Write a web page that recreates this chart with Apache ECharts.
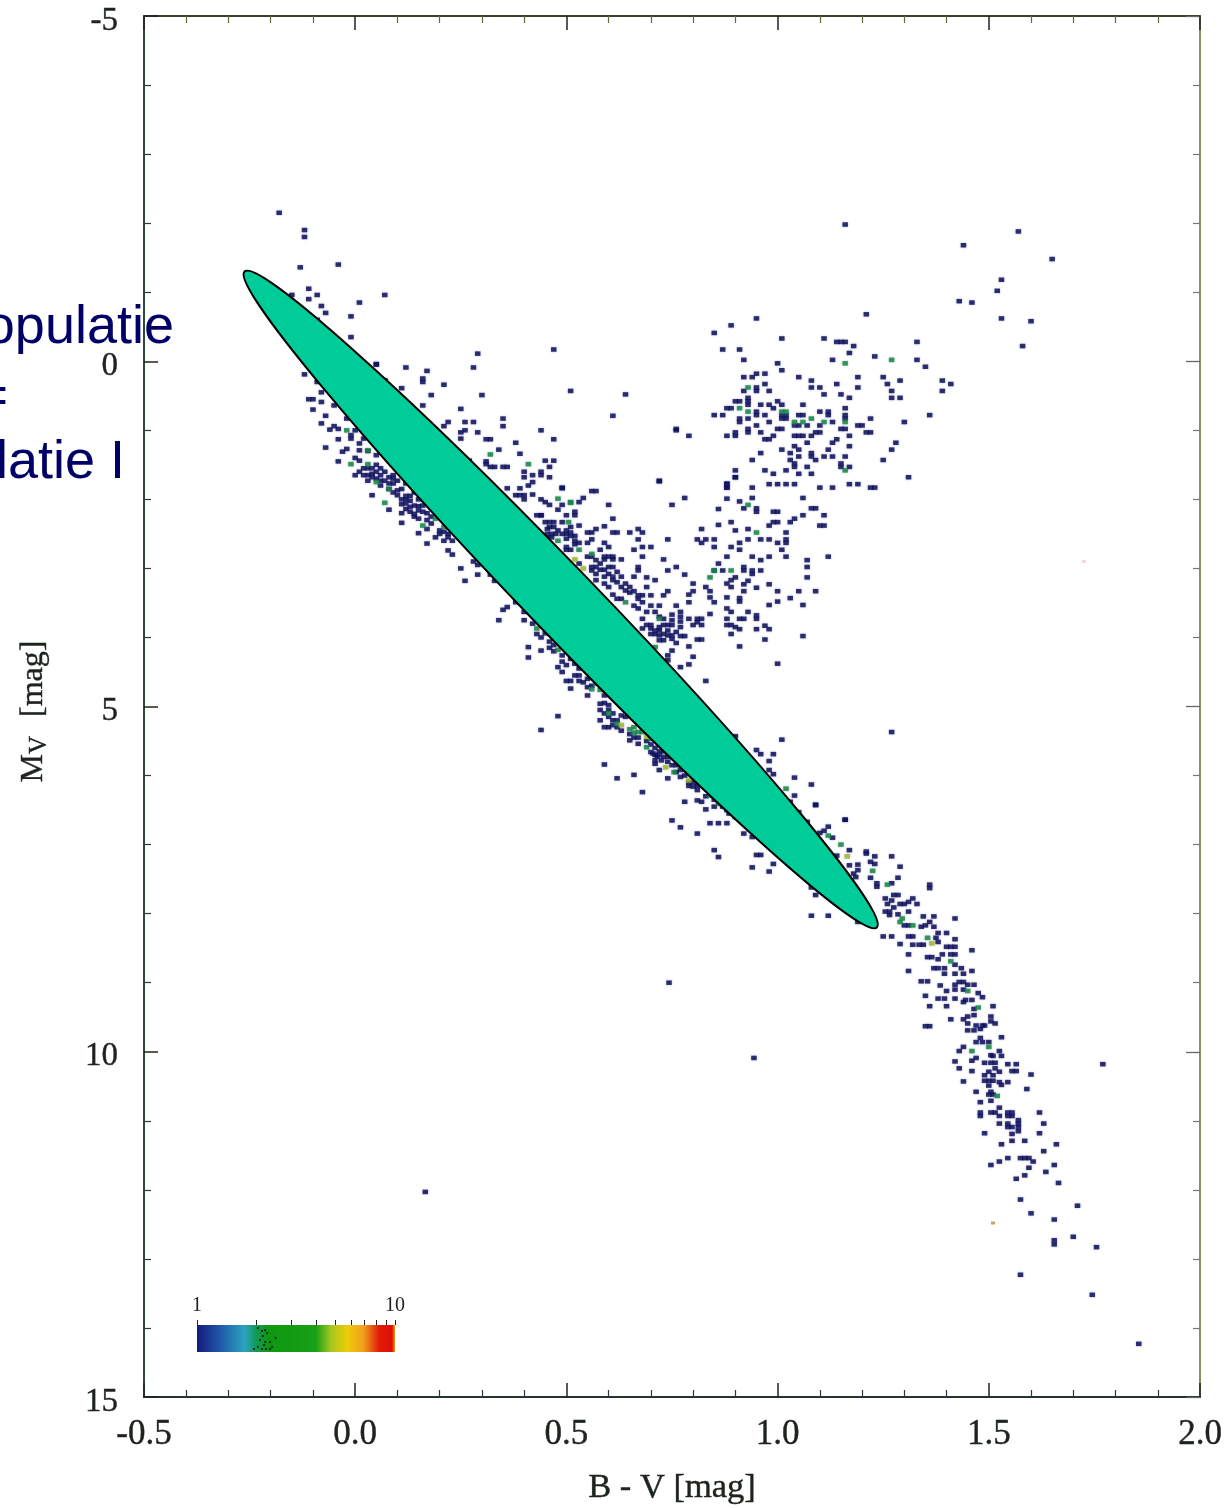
<!DOCTYPE html>
<html><head><meta charset="utf-8">
<style>html,body{margin:0;padding:0;background:#fff}#c{width:1229px;height:1508px}</style>
<script src="https://cdn.jsdelivr.net/npm/echarts@6/dist/echarts.min.js"></script>
</head><body><div id="c"></div>
<script>
// [B-V, Mv] cells
const brightBlue = [[-.18,-2.15],[-.12,-1.9],[-.12,-1.8],[-.13,-1.36],[-.04,-1.4],[.07,-.96],[-.15,-.96],[-.11,-1.05],[-.11,-.9],[-.09,-.96],[-.08,-.8],[-.07,-.7],[.01,-.85],[-.01,-.65],[-.01,-.35],[-.09,-.6],[.05,.05],[.07,.28],[-.12,.19],[-.09,.3],[-.08,.45],[-.11,.55],[-.1,.55],[-.08,.59],[-.05,.64],[-.1,.7],[-.07,.79],[-.02,.83],[-.08,.9],[-.05,.94],[-.04,.98],[-.06,.99],[-.01,1.07],[0,1],[-.04,1.13],[-.02,1.27],[-.03,1.31],[-.07,1.25],[-.01,1.12],[.02,1.12],[.01,1.19],[.01,1.29],[.03,1.3],[.05,1.36],[-.04,1.45],[0,1.4],[.01,1.44],[0,1.65],[.01,1.6],[.02,1.65],[.03,1.73],[.04,1.55],[.05,1.6],[.04,1.68],[.06,1.65],[.07,1.73],[.08,1.77],[.09,1.77],[.07,1.6],[.04,1.94],[.09,1.9],[.1,1.94],[.11,2],[.12,2.06],[.1,1.87],[.13,2.11],[.08,2.15],[.11,2.2],[.11,2.34],[.14,1.9],[.15,2],[.13,2.02],[.14,2.09],[.15,2.16],[.16,2.09],[.14,2.21],[.15,2.28],[.12,1.77],[.14,1.82],[.17,2.43],[.15,2.49],[.18,2.25],[.21,2.47],[.17,2.64],[.21,2.6],[.23,2.6],[.22,2.55],[.22,2.74],[.23,2.8],[.25,3],[.28,2.9],[.29,2.95],[.29,3.09],[.26,3.18],[.32,3.09],[.33,3.18],[.36,3.56],[.35,3.6],[.34,3.75],[.38,3.49],[.4,3.63],[.4,3.75],[.41,4.14],[.41,4.29],[.44,4.19],[.03,1.55],[.05,1.5],[.06,1.55],[.02,1.55],[.06,1.73],[.05,1.7],[.08,1.68],[.09,1.7],[.09,1.65],[.1,1.73],[.04,1.63],[.03,1.65],[.06,1.8],[.08,1.85],[.11,1.85],[.12,1.95],[.13,1.95],[.12,2],[.11,2.07],[.13,2.18],[.12,2.14],[.16,2.18],[.17,2.2],[.15,2.1],[.14,2.25],[.17,2.3],[.18,2.35],[.2,2.45],[.2,2.5],[.22,2.5],[.19,2.55]];
const upperBand = [[.29,-.11],[.47,-.17],[.28,.09],[.05,.04],[.12,.09],[.17,.14],[.16,.25],[.16,.3],[.07,.28],[.11,.39],[.21,.34],[.51,.43],[.3,.49],[.64,.48],[.18,.49],[.16,.64],[.25,.69],[.61,.79],[.22,.88],[.21,.94],[.26,.88],[.28,.88],[.26,1],[.25,1.03],[.25,1.12],[.29,1.03],[.35,.83],[.35,.94],[.44,1],[.76,1],[.47,1.13],[.31,1.13],[.32,1.13],[.38,1.18],[.34,1.28],[.39,1.34],[.31,1.45],[.31,1.49],[.45,1.44],[.47,1.44],[.27,1.44],[.46,1.53],[.44,1.6],[.32,1.53],[.33,1.53],[.35,1.53],[.36,1.53],[.4,1.6],[.4,1.68],[.44,1.65],[.46,1.68],[.42,1.65],[.42,1.75],[.41,1.8],[.72,1.74],[.49,1.84],[.36,1.84],[.39,1.84],[.39,1.94],[.4,1.94],[.38,1.94],[.4,2],[.42,1.93],[.44,2],[.44,2.23],[.43,2.23]];
const denseBranch = [[.57,1.88],[.56,1.88],[.49,1.83],[.78,1.98],[.53,2.04],[.54,1.98],[.75,2.08],[.6,2.08],[.49,2.08],[.48,2.15],[.46,2.08],[.45,2.04],[.52,2.18],[.52,2.23],[.5,2.23],[.44,2.23],[.61,2.28],[.49,2.33],[.45,2.33],[.46,2.33],[.47,2.33],[.53,2.38],[.51,2.4],[.59,2.39],[.57,2.43],[.55,2.48],[.56,2.48],[.61,2.48],[.62,2.48],[.65,2.48],[.67,2.43],[.68,2.48],[.51,2.48],[.51,2.53],[.455,2.43],[.455,2.5],[.465,2.5],[.475,2.5],[.455,2.55],[.465,2.55],[.67,2.58],[.74,2.58],[.56,2.58],[.55,2.63],[.5,2.57],[.59,2.63],[.6,2.69],[.68,2.69],[.7,2.69],[.66,2.73],[.58,2.73],[.5,2.69],[.5,2.73],[.51,2.73],[.68,2.83],[.73,2.87],[.59,2.83],[.6,2.83],[.61,2.83],[.59,2.87],[.61,2.87],[.63,2.87],[.53,2.93],[.56,2.98],[.57,2.98],[.58,3.02],[.59,3.02],[.56,3.03],[.61,2.98],[.67,2.98],[.67,3.03],[.74,3.03],[.76,2.98],[.57,3.08],[.59,3.12],[.61,3.12],[.6,3.08],[.66,3.12],[.69,3.13],[.71,3.17],[.78,3.09],[.57,3.17],[.59,3.22],[.61,3.17],[.6,3.27],[.64,3.22],[.65,3.27],[.64,3.32],[.69,3.27],[.74,3.33],[.73,3.39],[.8,3.22],[.8,3.33],[.79,3.38],[.79,3.49],[.83,3.27],[.84,3.33],[.84,3.42],[.85,3.49],[.66,3.33],[.67,3.39],[.68,3.39],[.67,3.44],[.7,3.39],[.61,3.38],[.62,3.44],[.63,3.44],[.66,3.54],[.67,3.58],[.68,3.49],[.7,3.54],[.72,3.54],[.76,3.54],[.69,3.63],[.71,3.63],[.75,3.67],[.75,3.75],[.75,3.82],[.77,3.63],[.77,3.7],[.77,3.77],[.77,3.85],[.79,3.73],[.8,3.82],[.81,3.78],[.82,3.73],[.82,3.82],[.81,3.73],[.84,3.66],[.68,3.73],[.69,3.82],[.68,3.87],[.7,3.82],[.71,3.9],[.72,3.85],[.73,3.82],[.7,3.95],[.71,3.95],[.73,3.95],[.74,3.97],[.75,3.97],[.72,4.04],[.73,4.04],[.77,3.98],[.78,3.98],[.81,4.03],[.82,4.03],[.76,4.08],[.79,4.13],[.75,4.19],[.74,4.26],[.74,4.33],[.8,4.28],[.79,4.39],[.77,4.43],[.83,4.63],[1,4.38],[.86,2.14],[.88,1.77],[.88,1.83],[.9,1.68],[.88,1.99],[.86,2.37],[.89,2.33],[.9,2.45],[.82,2.43],[.81,2.58],[.82,2.63],[.83,2.58],[.85,2.58],[.85,2.69],[.89,2.69],[.88,2.83],[.86,2.93],[.85,3.03],[.87,3.03],[.89,3.17],[.88,3.22],[.89,3.27],[.9,3.13],[.88,3.42],[.88,3.58],[.89,3.63],[.88,3.73],[.88,3.82],[.89,3.82],[.9,3.85],[.89,3.95],[.46,2.4],[.47,2.4],[.48,2.45],[.49,2.5],[.5,2.45],[.5,2.5],[.52,2.53],[.52,2.6],[.53,2.63],[.52,2.65],[.55,2.83],[.56,2.83],[.57,2.88],[.58,2.93],[.6,2.98],[.62,3.05],[.63,3.12],[.62,3.2],[.63,3.27],[.65,3.35],[.72,3.7],[.73,3.73],[.74,3.82],[.72,3.9],[.74,3.9],[.76,3.92],[.7,3.87],[.72,3.97],[.75,4.02]];
const giantBranch = [[1.16,-1.98],[1.57,-1.88],[1.44,-1.68],[1.65,-1.48],[1.53,-1.18],[1.52,-1.02],[1.43,-.87],[1.46,-.85],[1.21,-.68],[1.53,-.62],[1.6,-.58],[.95,-.62],[.89,-.52],[.85,-.41],[1.01,-.33],[1.11,-.33],[1.14,-.28],[1.15,-.28],[1.16,-.28],[1.33,-.28],[1.18,-.22],[1.58,-.22],[.87,-.17],[.91,-.17],[1.17,-.12],[1.23,-.07],[1.13,-.02],[.92,-.02],[1,.03],[1.33,-.02],[1.35,.08],[1.01,.13],[.92,.23],[.94,.23],[.95,.18],[.97,.18],[1.05,.23],[1.08,.28],[1.19,.23],[1.25,.23],[1.29,.28],[1.39,.28],[1.41,.33],[.97,.33],[.92,.43],[.95,.38],[.95,.43],[.98,.43],[1.08,.38],[1.1,.38],[1.14,.33],[1.19,.38],[1.26,.33],[1.27,.43],[1.39,.43],[1.11,.48],[1.15,.48],[1.17,.53],[1.27,.53],[1.29,.53],[.9,.58],[.91,.58],[.93,.53],[.93,.58],[.93,.63],[.96,.63],[.98,.63],[1,.58],[.99,.68],[1.01,.63],[1.06,.63],[1.16,.68],[.88,.68],[.89,.68],[.95,.73],[.85,.78],[.87,.78],[.95,.78],[.97,.78],[1.01,.78],[1.02,.78],[1.01,.83],[1.02,.83],[1.06,.78],[1.05,.78],[1.1,.73],[1.12,.73],[1.12,.78],[1.16,.78],[1.16,.83],[1.22,.83],[.91,.83],[.91,.88],[.93,.83],[.98,.88],[1.1,.93],[1.13,.88],[1.3,.88],[1.36,.78],[1.04,.93],[1.05,.93],[1.07,.93],[.95,.93],[1.01,.98],[1,.98],[1.15,.98],[1.16,.98],[1.19,.93],[1.2,.93],[.93,.98],[.93,1.03],[.96,1.03],[.76,.98],[.79,1.08],[.88,1.08],[.9,1.03],[.9,1.08],[.99,1.08],[1.04,1.08],[1.05,1.08],[1.06,1.08],[1.08,1.08],[1.09,1.03],[1.1,1.03],[1.17,1.08],[1.21,1.03],[1.22,1.03],[.97,1.13],[.98,1.13],[1.14,1.13],[1.13,1.18],[1.07,1.18],[1.28,1.18],[1.04,1.23],[1.17,1.23],[1.01,1.28],[1.05,1.28],[1.12,1.28],[1.27,1.28],[.96,1.33],[1.03,1.33],[1.05,1.38],[1.08,1.33],[1.08,1.38],[1.11,1.38],[1.13,1.38],[1.16,1.38],[.94,1.43],[1.03,1.43],[1.09,1.43],[1.25,1.43],[1.04,1.48],[1.15,1.48],[1.15,1.53],[1.17,1.53],[1.02,1.58],[1.04,1.53],[1.07,1.53],[.97,1.58],[.99,1.63],[1.05,1.63],[1.08,1.63],[1.31,1.68],[.72,1.73],[.88,1.78],[.88,1.83],[.9,1.58],[.9,1.68],[.98,1.78],[1,1.78],[1.02,1.78],[1.04,1.78],[.94,1.83],[1.1,1.83],[1.13,1.83],[1.17,1.78],[1.19,1.78],[1.22,1.83],[1.23,1.83],[.94,1.98],[.91,2.03],[1.06,1.98],[.92,2.13],[.95,2.13],[.95,2.18],[.99,2.18],[1,2.18],[1.08,2.13],[1.09,2.13],[1.06,2.23],[1.11,2.23],[1.04,2.28],[.99,2.33],[1,2.33],[.98,2.38],[1.03,2.33],[1.1,2.38],[1.11,2.38],[.93,2.43],[1.02,2.48],[.93,2.58],[.96,2.58],[.98,2.58],[1.02,2.58],[1.02,2.63],[1,2.63],[.91,2.63],[.91,2.73],[1.01,2.73],[.94,2.83],[.96,2.88],[.98,2.83],[1.02,2.83],[1.07,2.88],[1.07,2.98],[1.12,2.83],[.92,2.98],[.92,3.03],[.94,3.03],[.94,3.08],[.96,3.03],[1.07,3.13],[.93,3.18],[.92,3.23],[.98,3.23],[.95,3.28],[.92,3.33],[1,3.33],[1.05,3.33],[1.09,3.33],[.91,3.43],[.91,3.48],[1.03,3.43],[1,3.48],[.98,3.53],[1.06,3.53],[.93,3.63],[.95,3.68],[.95,3.73],[.91,3.73],[.92,3.73],[.97,3.83],[.98,3.88],[.95,3.88],[.91,3.88],[1.06,3.98],[.97,4.03],[.91,4.13]];
const lowerBand = [[.45,3.94],[.46,4.06],[.47,4.11],[.49,4.26],[.51,4.31],[.52,4.38],[.48,4.43],[.49,4.5],[.53,4.45],[.53,4.55],[.5,4.63],[.51,4.63],[.53,4.63],[.55,4.6],[.51,4.74],[.55,4.72],[.55,4.84],[.59,4.84],[.58,4.96],[.58,5.05],[.6,4.98],[.61,5.1],[.63,5.13],[.58,5.2],[.59,5.3],[.61,5.27],[.64,5.15],[.65,5.49],[.67,5.54],[.7,5.66],[.705,5.68],[.72,5.7],[.725,5.78],[.71,5.78],[.715,5.73],[.73,5.73],[.74,5.73],[.71,5.83],[.72,5.92],[.77,5.92],[.77,6.02],[.74,6.04],[.8,6.16],[.81,6.21],[.78,6.38],[.81,6.36],[.82,6.38],[.83,6.49],[.88,6.5],[.885,6.55],[.9,6.6],[.48,5.14],[.44,5.34],[.59,5.84],[.62,6.04],[.66,5.99],[.68,6.24],[.75,6.65],[.77,6.75],[.81,6.84],[.84,6.69],[.86,6.69],[.88,6.69],[.92,6.84],[.94,6.89],[.85,7.08],[.86,7.18],[.95,7.15],[.96,7.15],[.94,7.33],[.98,7.39],[.99,7.28],[.9,5.43],[1.01,5.48],[.95,5.63],[.96,5.69],[.99,5.69],[.98,5.79],[.98,5.92],[.99,5.98],[1.04,6.03],[1.08,6.13],[1.04,6.29],[1.03,6.38],[1.09,6.43],[1.05,6.53],[1.07,6.67],[1.16,6.64],[1.27,5.37],[.59,4.95],[.6,5.05],[.59,5.1],[.6,5.15],[.62,5.2],[.61,5.2],[.62,5.3],[.6,5.3],[.63,5.35],[.65,5.4],[.66,5.45],[.67,5.45],[.69,5.5],[.7,5.55],[.71,5.6],[.72,5.65],[.73,5.65],[.71,5.7],[.74,5.8],[.75,5.85],[.76,5.85],[.76,5.95],[.78,6],[.79,6.1],[.8,6.1],[.79,6.15],[.81,6.15],[.83,6.3],[.85,6.35],[.85,6.45],[.87,6.45],[.56,4.7],[.54,4.65],[.52,4.55],[.5,4.4],[.49,4.35],[.47,4.2],[.46,4.15],[.44,4],[.43,3.95],[.42,3.8]];
const lowerMain = [[1.09,6.42],[1.16,6.64],[1.12,6.74],[1.11,6.8],[1.13,6.9],[1.1,6.83],[1.17,7.08],[1.14,7.16],[1.21,7.1],[1.21,7.13],[1.23,7.17],[1.23,7.28],[1.22,7.25],[1.19,7.29],[1.17,7.3],[1.19,7.37],[1.18,7.42],[1.185,7.47],[1.22,7.48],[1.235,7.56],[1.235,7.61],[1.27,7.17],[1.29,7.32],[1.27,7.56],[1.285,7.48],[1.36,7.58],[1.36,7.63],[1.08,7.62],[1.09,7.73],[1.08,8.03],[1.12,8.03],[1.19,8.12],[1.25,8.33],[1.27,8.33],[1.255,7.78],[1.275,7.73],[1.285,7.73],[1.32,7.78],[1.33,7.86],[1.31,7.83],[1.3,7.86],[1.29,7.86],[1.27,7.81],[1.26,7.86],[1.255,7.97],[1.265,7.97],[1.275,7.91],[1.265,8.02],[1.285,8.01],[1.31,7.97],[1.3,8.17],[1.31,8.17],[1.345,8.04],[1.37,8.04],[1.36,8.12],[1.35,8.17],[1.34,8.19],[1.37,8.19],[1.42,8.07],[1.4,8.28],[1.38,8.28],[1.375,8.35],[1.31,8.33],[1.32,8.33],[1.38,8.41],[1.32,8.45],[1.335,8.45],[1.345,8.45],[1.29,8.44],[1.42,8.37],[1.4,8.48],[1.41,8.48],[1.42,8.48],[1.39,8.59],[1.355,8.63],[1.365,8.63],[1.41,8.59],[1.42,8.59],[1.42,8.74],[1.38,8.66],[1.38,8.79],[1.37,8.79],[1.395,8.79],[1.395,8.87],[1.435,8.79],[1.44,8.87],[1.42,8.87],[1.46,8.53],[1.46,8.83],[1.31,8.59],[1.31,8.83],[1.34,8.98],[1.355,8.98],[1.385,9.04],[1.42,9.03],[1.43,8.99],[1.44,8.99],[1.45,9.03],[1.42,9.1],[1.44,9.1],[1.465,9.03],[1.4,9.12],[1.38,9.23],[1.395,9.23],[1.42,9.23],[1.44,9.28],[1.445,9.25],[1.475,9.15],[1.485,9.21],[1.46,9.25],[1.465,9.38],[1.35,9.19],[1.36,9.34],[1.4,9.34],[1.51,9.34],[1.41,9.53],[1.44,9.53],[1.45,9.49],[1.465,9.47],[1.505,9.49],[1.505,9.56],[1.45,9.59],[1.47,9.62],[1.485,9.62],[1.49,9.62],[1.45,9.69],[1.465,9.69],[1.48,9.67],[1.515,9.59],[1.35,9.63],[1.36,9.63]];
const redDwarfs = [[1.53,9.79],[1.48,9.8],[1.47,9.86],[1.485,9.86],[1.5,9.86],[1.44,9.93],[1.43,9.99],[1.525,9.99],[1.51,10.06],[1.53,10.06],[1.505,10.05],[1.47,10.09],[1.46,10.13],[1.49,10.16],[1.505,10.16],[1.515,10.16],[1.42,10.14],[1.43,10.24],[1.46,10.28],[1.545,10.18],[1.565,10.18],[1.555,10.28],[1.565,10.28],[1.515,10.24],[1.525,10.29],[1.5,10.29],[1.49,10.34],[1.51,10.34],[1.49,10.42],[1.5,10.42],[1.51,10.42],[1.525,10.44],[1.545,10.44],[1.53,10.48],[1.44,10.43],[1.47,10.58],[1.5,10.49],[1.505,10.58],[1.5,10.62],[1.51,10.62],[1.505,10.71],[1.48,10.73],[1.6,10.33],[1.59,10.54],[1.77,10.18],[1.525,10.81],[1.505,10.88],[1.515,10.88],[1.525,10.93],[1.48,10.88],[1.48,10.93],[1.545,10.88],[1.555,10.88],[1.545,10.93],[1.555,10.93],[1.525,11.04],[1.545,11.04],[1.545,11.09],[1.555,11.09],[1.57,10.99],[1.57,11.04],[1.57,11.09],[1.57,11.15],[1.62,10.88],[1.63,11.04],[1.62,11.18],[1.49,11.18],[1.555,11.19],[1.555,11.29],[1.585,11.29],[1.53,11.34],[1.66,11.34],[1.63,11.44],[1.505,11.64],[1.525,11.59],[1.545,11.54],[1.575,11.54],[1.585,11.54],[1.595,11.54],[1.605,11.59],[1.595,11.68],[1.585,11.79],[1.565,11.84],[1.655,11.64],[1.635,11.74],[1.665,11.9],[1.575,12.14],[1.71,12.23],[1.6,12.34],[1.655,12.43],[1.7,12.68],[1.655,12.73],[1.655,12.79],[1.755,12.83],[1.575,13.23],[1.745,13.52],[1.855,14.23],[.743,9],[.944,10.09],[.166,12.03]];
const greenCells = [[.48,1.99],[.51,2.04],[.505,2.33],[.48,2.6],[.53,2.73],[.56,2.79],[.64,3.49],[.71,4.14],[.72,3.73],[.85,3.03],[.89,3.03],[.84,3.13],[1.16,.03],[1.27,-.02],[.93,.38],[.91,.68],[.93,.73],[1.01,.73],[1.02,.73],[1.04,.88],[1.08,.83],[1.11,.88],[1.16,.88],[1.06,.88],[1.16,1.58],[.93,2.08],[.95,2.48],[-.02,1],[.03,1.29],[-.01,1.49],[.03,1.49],[.05,1.75],[.08,1.85],[.07,2.05],[.16,2.38],[.19,2.28],[.21,2.4],[.32,1.35],[.41,1.49],[.51,2.05],[.43,3.87],[.48,4.18],[.57,4.67],[.58,4.76],[.66,5.3],[.68,5.37],[.69,5.59],[.755,5.95],[.84,6.29],[.86,6.41],[1.02,6.19],[1.12,6.87],[1.15,7],[1.225,7.38],[1.26,7.58],[1.295,8.07],[1.29,8.12],[1.32,8.17],[1.355,8.35],[1.41,8.69],[1.45,9.12],[1.475,9.36],[1.5,9.93],[1.46,9.99],[1.52,10.64],[.6,5.1],[.62,5.25],[.65,5.33],[.67,5.37],[.7,5.47],[.66,5.38],[.56,4.75]];
const yellowCells = [[.52,2.87],[.54,3],[.63,5.27],[.69,5.44],[.735,5.88],[.79,6.07],[1.165,7.17],[1.365,8.43]];
const oddCells = [[1.51,12.48,'#c08a3c'],[1.725,2.9,'#fbc8d0']];

const colorbarTickValues = [1,2,3,4,5,6,7,8,9,10];
const colorbarLabels = [1,10];
const colorbarStops = [[0,'#141a80'],[.12,'#1f5aa8'],[.24,'#2ba3c0'],[.3,'#119a55'],[.36,'#0d990f'],[.6,'#18a018'],[.68,'#a9c81e'],[.76,'#eecb08'],[.84,'#f0a020'],[.92,'#e01c08'],[.985,'#dd1005'],[1,'#f0a010']];
const colorbarSpeckle = [[2.03,.89],[2.13,.78],[2.21,.81],[2.26,.7],[2.15,.59],[2.08,.44],[2.21,.37],[2.34,.37],[2.5,.52],[1.94,.11],[2.03,.19],[2.13,.11],[2.23,.11],[2.34,.11],[2.39,.19],[2.18,.26]];
const ellipseTips = [[-.262,-1.3],[1.235,8.2]];
const xTickLabelsDigits = 1;
const annotationLines = ['Populatie','=','Populatie I'];

const chart = echarts.init(document.getElementById('c'), null, {renderer:'canvas'});
const serif = '"Liberation Serif"';
const ink = '#1d241d';
const stars = (name, data, color, z) => ({
  name, type:'scatter', data, symbol:'rect', symbolSize:[5.5,4.5], z, silent:true,
  itemStyle:{color, shadowBlur:2, shadowColor:'rgba(70,70,150,.6)'}, animation:false, large:false
});
chart.setOption({
  animation:false, backgroundColor:'#fff',
  grid:[{left:144,top:16,width:1056,height:1381,outerBoundsMode:'none'},{left:197,top:1325,width:198,height:27,outerBoundsMode:'none'}],
  xAxis:[
    {gridIndex:0,type:'value',min:-.5,max:2,interval:.5,position:'bottom',
     axisLine:{onZero:false,lineStyle:{color:'#25352a',width:2}},
     axisTick:{inside:true,length:14,lineStyle:{color:'#1c241c',width:1.5}},
     minorTick:{show:true,splitNumber:5,length:7,lineStyle:{color:'#334',width:1.2}},
     splitLine:{show:false},
     axisLabel:{margin:20,fontFamily:serif,fontSize:35,color:ink,textBorderColor:ink,textBorderWidth:.4,formatter:v=>v.toFixed(xTickLabelsDigits)},
     name:'B - V [mag]',nameLocation:'middle',nameGap:73,nameTextStyle:{fontFamily:serif,fontSize:34.5,color:ink,textBorderColor:ink,textBorderWidth:.4}},
    {gridIndex:0,type:'value',min:-.5,max:2,interval:.5,position:'top',
     axisLine:{onZero:false,lineStyle:{color:'#3a3f30',width:2}},
     axisTick:{inside:true,length:14,lineStyle:{color:'#222',width:1.5}},
     minorTick:{show:true,splitNumber:5,length:7,lineStyle:{color:'#6a6a3a',width:1.2}},
     splitLine:{show:false},axisLabel:{show:false}},
    {gridIndex:1,type:'log',min:1,max:10,position:'top',
     axisLine:{show:false,onZero:false},
     axisTick:{show:true,length:5,customValues:colorbarTickValues,lineStyle:{color:'#222',width:1}},
     minorTick:{show:false},splitLine:{show:false},
     axisLabel:{margin:9,fontFamily:serif,fontSize:20,color:'#222',customValues:colorbarLabels,showMinLabel:true,showMaxLabel:true}}
  ],
  yAxis:[
    {gridIndex:0,type:'value',inverse:true,min:-5,max:15,interval:5,position:'left',
     axisLine:{onZero:false,lineStyle:{color:'#2c4a35',width:2}},
     axisTick:{inside:true,length:14,lineStyle:{color:'#1c241c',width:1.5}},
     minorTick:{show:true,splitNumber:5,length:7,lineStyle:{color:'#334',width:1.2}},
     splitLine:{show:false},
     axisLabel:{margin:26,fontFamily:serif,fontSize:33,color:ink,textBorderColor:ink,textBorderWidth:.4,verticalAlign:'top',lineHeight:10},
     name:'{m|M}{s|V}{g| }{m|[mag]}',nameLocation:'middle',nameGap:92,nameRotate:90,
     nameTextStyle:{padding:[0,10,0,0],rich:{m:{fontFamily:serif,fontSize:32,color:ink,textBorderColor:ink,textBorderWidth:.4},s:{fontFamily:serif,fontSize:25,color:ink,textBorderColor:ink,textBorderWidth:.4,padding:[12,0,0,0]},g:{width:19,fontSize:10}}}},
    {gridIndex:0,type:'value',inverse:true,min:-5,max:15,interval:5,position:'right',
     axisLine:{onZero:false,lineStyle:{color:'#8a9060',width:2}},
     axisTick:{inside:true,length:14,lineStyle:{color:'#666',width:1.3}},
     minorTick:{show:true,splitNumber:5,length:7,lineStyle:{color:'#777',width:1.2}},
     splitLine:{show:false},axisLabel:{show:false}},
    {gridIndex:1,type:'value',min:0,max:1,show:false}
  ],
  series:[
    stars('brightBlue',brightBlue,'#080a55',5),
    stars('upperBand',upperBand,'#080a55',5),
    stars('denseBranch',denseBranch,'#080a55',5),
    stars('giantBranch',giantBranch,'#080a55',5),
    stars('lowerBand',lowerBand,'#080a55',5),
    stars('lowerMain',lowerMain,'#080a55',5),
    stars('redDwarfs',redDwarfs,'#080a55',5),
    stars('green',greenCells,'#0e8f3a',6),
    stars('yellow',yellowCells,'#a9c01a',6),
    {type:'scatter',data:oddCells.map(d=>({value:[d[0],d[1]],itemStyle:{color:d[2]}})),symbol:'rect',symbolSize:[4,3],z:5,silent:true},
    {type:'custom',silent:true,z:20,coordinateSystem:'cartesian2d',clip:false,
     data:[[ellipseTips[0][0],ellipseTips[0][1],ellipseTips[1][0],ellipseTips[1][1]]],
     encode:{x:[0,2],y:[1,3]},
     renderItem(p,api){
       const a=api.coord([api.value(0),api.value(1)]), b=api.coord([api.value(2),api.value(3)]);
       const dx=b[0]-a[0], dy=b[1]-a[1], cx=(a[0]+b[0])/2, cy=(a[1]+b[1])/2;
       const rx=Math.hypot(dx,dy)/2;
       return {type:'ellipse',x:cx,y:cy,rotation:-Math.atan2(dy,dx),
         shape:{cx:0,cy:0,rx,ry:rx*.0745},
         style:{fill:'#00cc99',stroke:'#000',lineWidth:2}};
     }},
    {type:'custom',xAxisIndex:2,yAxisIndex:2,silent:true,z:5,clip:false,
     data:[[1,0,10,1]],encode:{x:[0,2],y:[1,3]},
     renderItem(p,api){
       const a=api.coord([api.value(0),api.value(1)]), b=api.coord([api.value(2),api.value(3)]);
       return {type:'rect',shape:{x:a[0],y:b[1],width:b[0]-a[0],height:a[1]-b[1]},
         style:{fill:new echarts.graphic.LinearGradient(0,0,1,0,colorbarStops.map(s=>({offset:s[0],color:s[1]})))}};
     }},
    {type:'scatter',xAxisIndex:2,yAxisIndex:2,data:colorbarSpeckle,symbol:'rect',symbolSize:2,z:6,silent:true,itemStyle:{color:'#112'}}
  ],
  graphic:[
    {type:'text',z:100,silent:true,style:{x:174,y:355,text:annotationLines[0],align:'right',verticalAlign:'bottom',fontFamily:'"Liberation Sans"',fontSize:54,fill:'#000066'}},
    {type:'text',z:100,silent:true,style:{x:8,y:425,text:annotationLines[1],align:'right',verticalAlign:'bottom',fontFamily:'"Liberation Sans"',fontSize:54,fill:'#000066'}},
    {type:'text',z:100,silent:true,style:{x:125,y:490,text:annotationLines[2],align:'right',verticalAlign:'bottom',fontFamily:'"Liberation Sans"',fontSize:54,fill:'#000066'}}
  ]
});
</script></body></html>
